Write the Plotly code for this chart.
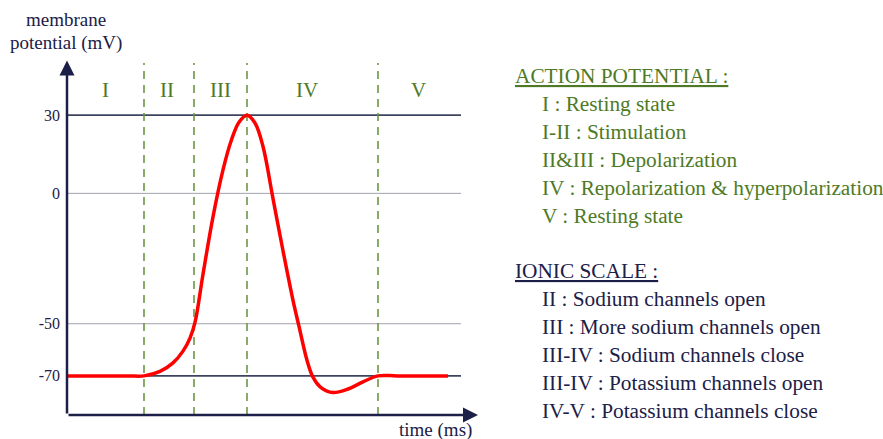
import plotly.graph_objects as go

# ---- data ----
time_ms = [0.0, 6.0, 7.7, 9.3, 10.6, 11.6, 12.3, 12.8, 13.6, 14.6, 15.6, 16.4, 17.2, 18.0,
           18.8, 19.6, 20.6, 21.6, 22.6, 23.2, 24.0, 24.6, 25.4, 26.6, 28.0, 29.6, 31.1, 33.0, 38.1]
potential_mv = [-70, -70, -70, -68.3, -65, -60.5, -55.5, -49.5, -31, -9, 9, 20, 27.3, 30,
                27, 18, -2, -22, -41, -51, -64, -70.5, -74.5, -76.4, -75.2, -72.3, -70, -70, -70]

y_ticks = [30, 0, -50, -70]
y_tick_labels = ["30", "0", "-50", "-70"]
phase_bounds = [7.7, 12.7, 18.0, 31.1]
phase_names = ["I", "II", "III", "IV", "V"]
phase_label_x = [3.8, 10.0, 15.3, 24.0, 35.1]

action_title = "ACTION POTENTIAL :"
action_items = ["I : Resting state", "I-II : Stimulation", "II&III : Depolarization",
                "IV : Repolarization &amp; hyperpolarization", "V : Resting state"]
ionic_title = "IONIC SCALE :"
ionic_items = ["II : Sodium channels open", "III : More sodium channels open",
               "III-IV : Sodium channels close", "III-IV : Potassium channels open",
               "IV-V : Potassium channels close"]

X_MIN, X_MAX = 0.0, 41.1
Y_MIN, Y_MAX = -85.0, 50.0
GRID_END = 39.4

GREEN = "rgb(78,122,38)"
DASH_GREEN = "rgb(110,150,70)"
NAVY = "rgb(28,32,72)"
SERIF = "Liberation Serif, Times New Roman, serif"

W, H = 883, 439
L, R, T, B = 67, 405, 63, 24
PW, PH = W - L - R, H - T - B


def px(xp):
    return (xp - L) / PW


def py(yp):
    return (H - B - yp) / PH


fig = go.Figure()

# horizontal reference lines
for v in y_ticks:
    dark = v in (30, -70)
    fig.add_trace(go.Scatter(
        x=[X_MIN, GRID_END], y=[v, v], mode="lines",
        line=dict(color="rgb(62,68,95)" if dark else "rgb(160,163,172)", width=1.8 if dark else 1),
        hoverinfo="skip", showlegend=False))

# phase boundaries
for b in phase_bounds:
    fig.add_trace(go.Scatter(
        x=[b, b], y=[Y_MIN, Y_MAX], mode="lines",
        line=dict(color=DASH_GREEN, width=1.6, dash="8px,6px"),
        hoverinfo="skip", showlegend=False))

# action potential curve
fig.add_trace(go.Scatter(
    x=time_ms, y=potential_mv, mode="lines",
    line=dict(color="rgb(255,0,0)", width=3.5, shape="spline", smoothing=1.0),
    showlegend=False))

annotations = []
# axes arrows
annotations.append(dict(x=X_MIN, y=Y_MAX + 1, ax=X_MIN, ay=Y_MIN, xref="x", yref="y",
                        axref="x", ayref="y", text="", showarrow=True, arrowhead=2,
                        arrowsize=1.2, arrowwidth=2.5, arrowcolor=NAVY))
annotations.append(dict(x=X_MAX, y=Y_MIN, ax=X_MIN, ay=Y_MIN, xref="x", yref="y",
                        axref="x", ayref="y", text="", showarrow=True, arrowhead=2,
                        arrowsize=1.2, arrowwidth=2.5, arrowcolor=NAVY))

# phase labels
for name, xl in zip(phase_names, phase_label_x):
    annotations.append(dict(x=xl, y=39.6, xref="x", yref="y", text=name, showarrow=False,
                            xanchor="center", yanchor="middle",
                            font=dict(family=SERIF, size=21, color=GREEN)))

# axis titles
annotations.append(dict(x=px(66), y=py(19), xref="paper", yref="paper",
                        xanchor="center", yanchor="middle",
                        text="membrane", showarrow=False,
                        font=dict(family=SERIF, size=19, color=NAVY)))
annotations.append(dict(x=px(66), y=py(43), xref="paper", yref="paper",
                        xanchor="center", yanchor="middle",
                        text="potential (mV)", showarrow=False,
                        font=dict(family=SERIF, size=19, color=NAVY)))
annotations.append(dict(x=px(435), y=py(430), xref="paper", yref="paper",
                        xanchor="center", yanchor="middle",
                        text="time (ms)", showarrow=False,
                        font=dict(family=SERIF, size=19, color=NAVY)))

# right side text
RS = 21.3
annotations.append(dict(x=px(513), y=py(76), xref="paper", yref="paper", xanchor="left",
                        yanchor="middle",
                        text="<u>" + action_title + "</u>", showarrow=False,
                        font=dict(family=SERIF, size=RS, color=GREEN)))
for i, t in enumerate(action_items):
    annotations.append(dict(x=px(540), y=py(104 + 28 * i), xref="paper", yref="paper",
                            xanchor="left", yanchor="middle", text=t, showarrow=False,
                            font=dict(family=SERIF, size=RS, color=GREEN)))
annotations.append(dict(x=px(513), y=py(271), xref="paper", yref="paper", xanchor="left",
                        yanchor="middle",
                        text="<u>" + ionic_title + "</u>", showarrow=False,
                        font=dict(family=SERIF, size=RS, color=NAVY)))
for i, t in enumerate(ionic_items):
    annotations.append(dict(x=px(540), y=py(299 + 28 * i), xref="paper", yref="paper",
                            xanchor="left", yanchor="middle", text=t, showarrow=False,
                            font=dict(family=SERIF, size=RS, color=NAVY)))

fig.update_layout(
    width=W, height=H,
    margin=dict(l=L, r=R, t=T, b=B),
    paper_bgcolor="white", plot_bgcolor="white",
    xaxis=dict(range=[X_MIN, X_MAX], showgrid=False, zeroline=False, showticklabels=False,
               showline=False, fixedrange=True),
    yaxis=dict(range=[Y_MIN, Y_MAX], showgrid=False, zeroline=False, tickvals=y_ticks,
               ticktext=y_tick_labels, ticks="", showline=False, ticklabelstandoff=6,
               tickfont=dict(family=SERIF, size=16, color=NAVY), fixedrange=True),
    annotations=annotations,
    showlegend=False,
)

fig.write_html("out.html", config={"displayModeBar": False},
               post_script="document.body.style.margin='0';document.body.style.overflow='hidden';")
